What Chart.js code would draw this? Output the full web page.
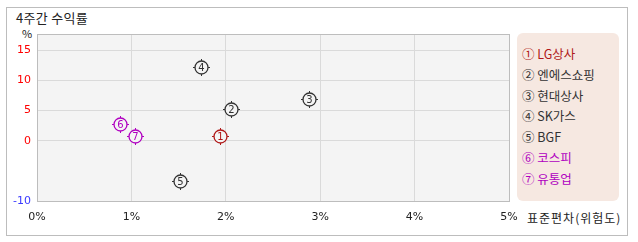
<!DOCTYPE html>
<html>
<head>
<meta charset="utf-8">
<script src="https://cdn.jsdelivr.net/npm/chart.js@4"></script>
<style>
  body { margin: 0; width: 638px; height: 242px; background: #fff; position: relative; overflow: hidden; font-family: "Noto Sans CJK KR", "DejaVu Sans", sans-serif; }
  #box { position: absolute; left: 6px; top: 7px; width: 620px; height: 227px; border: 1px solid #bdbdbd; }
  #title { position: absolute; left: 16px; top: 8px; font-size: 13px; color: #222; letter-spacing: 0.3px; }
  #unit { position: absolute; left: 22px; top: 25px; font-size: 11px; color: #222; }
  #xtitle { position: absolute; left: 527px; top: 209px; font-size: 12px; color: #222; letter-spacing: 1px; }
  #legend { position: absolute; left: 517px; top: 33px; width: 102px; height: 168px; background: #f6e8e1; border-radius: 6px; }
  #legend div { position: absolute; left: 5px; font-size: 12.5px; white-space: nowrap; }
  #wrap { position: absolute; left: 0; top: 0; width: 638px; height: 242px; }
</style>
</head>
<body>
<div id="box"></div>
<div id="title">4주간 수익률</div>
<div id="unit">%</div>
<div id="xtitle">표준편차(위험도)</div>
<div id="legend"></div>
<div id="wrap"><canvas id="chart" width="638" height="242"></canvas></div>
<script>
// ==================================================
// DATA
// ==================================================
const names = ["LG상사", "엔에스쇼핑", "현대상사", "SK가스", "BGF", "코스피", "유통업"];
const marks = ["①", "②", "③", "④", "⑤", "⑥", "⑦"];
const risk = [1.94, 2.06, 2.88, 1.74, 1.52, 0.88, 1.04];
const returns = [0.8, 5.2, 7.0, 12.3, -6.7, 2.8, 0.8];
const colors = ["#b01818", "#333333", "#333333", "#333333", "#333333", "#b000c0", "#b000c0"];
const yTicks = [-10, 0, 5, 10, 15];
const xTicks = [0, 1, 2, 3, 4, 5];

// ==================================================
// LEGEND
// ==================================================
const legendEl = document.querySelector("#legend");
names.forEach((name, i) => {
  const item = document.createElement("div");
  item.textContent = marks[i] + " " + name;
  item.style.top = 11 + i * 20.8 + "px";
  item.style.color = colors[i];
  legendEl.appendChild(item);
});

// ==================================================
// PLUGINS
// ==================================================
const plotBox = {
  id: "plotBox",
  beforeDraw(chart) {
    const { ctx, chartArea: a } = chart;
    ctx.save();
    ctx.fillStyle = "#f4f4f4";
    ctx.fillRect(a.left, a.top, a.right - a.left, a.bottom - a.top);
    ctx.restore();
  },
  afterDraw(chart) {
    const { ctx, chartArea: a } = chart;
    ctx.save();
    ctx.strokeStyle = "#bdbdbd";
    ctx.lineWidth = 1;
    ctx.strokeRect(a.left + 0.5, a.top + 0.5, a.right - a.left, a.bottom - a.top);
    ctx.restore();
  },
};

const circledMarks = {
  id: "circledMarks",
  afterDatasetsDraw(chart) {
    const ctx = chart.ctx;
    chart.data.datasets.forEach((ds, i) => {
      const pt = chart.getDatasetMeta(i).data[0];
      const x = Math.round(pt.x) + 0.5;
      const y = Math.round(pt.y) + 0.5;
      ctx.save();
      ctx.strokeStyle = colors[i];
      ctx.fillStyle = "#f4f4f4";
      ctx.lineWidth = 1.3;
      ctx.beginPath();
      ctx.arc(x, y, 6.5, 0, Math.PI * 2);
      ctx.fill();
      ctx.stroke();
      // little ticks
      ctx.lineWidth = 1;
      ctx.beginPath();
      ctx.moveTo(x, y - 8.5); ctx.lineTo(x, y - 6.5);
      ctx.moveTo(x, y + 6.5); ctx.lineTo(x, y + 8.5);
      ctx.moveTo(x - 8.5, y); ctx.lineTo(x - 6.5, y);
      ctx.moveTo(x + 6.5, y); ctx.lineTo(x + 8.5, y);
      ctx.stroke();
      ctx.fillStyle = colors[i];
      ctx.font = "10px 'DejaVu Sans'";
      ctx.textAlign = "center";
      ctx.textBaseline = "middle";
      ctx.fillText(String(i + 1), x, y + 0.5);
      ctx.restore();
    });
  },
};

// ==================================================
// CHART
// ==================================================
const ctx = document.getElementById("chart").getContext("2d");

const myChart = new Chart(ctx, {
  type: "scatter",
  data: {
    datasets: names.map((name, i) => ({
      label: name,
      data: [{ x: risk[i], y: returns[i] }],
      pointRadius: 0,
      pointHoverRadius: 0,
    })),
  },
  options: {
    responsive: false,
    animation: false,
    devicePixelRatio: 1,
    layout: { padding: { left: 0, top: 34, right: 129, bottom: 11 } },
    plugins: {
      legend: { display: false },
      tooltip: { enabled: false },
    },
    scales: {
      x: {
        min: 0,
        max: 5,
        afterBuildTicks: (scale) => {
          scale.ticks = xTicks.map((v) => ({ value: v }));
        },
        afterFit: (scale) => {
          scale.height = 30;
        },
        grid: { color: "#dadada", drawTicks: false },
        border: { display: false },
        ticks: {
          padding: 10,
          maxRotation: 0,
          color: "#222",
          font: { size: 11, family: "DejaVu Sans" },
          callback: (value) => value + "%",
        },
      },
      y: {
        min: -10,
        max: 17.7,
        afterBuildTicks: (scale) => {
          scale.ticks = yTicks.map((v) => ({ value: v }));
        },
        afterFit: (scale) => {
          scale.width = 37;
        },
        grid: { color: "#dadada", drawTicks: false },
        border: { display: false },
        ticks: {
          padding: 6,
          font: { size: 11, family: "DejaVu Sans" },
          color: (c) => (c.tick.value < 0 ? "#3a3aff" : "#ff0000"),
        },
      },
    },
  },
  plugins: [plotBox, circledMarks],
});
</script>
</body>
</html>
